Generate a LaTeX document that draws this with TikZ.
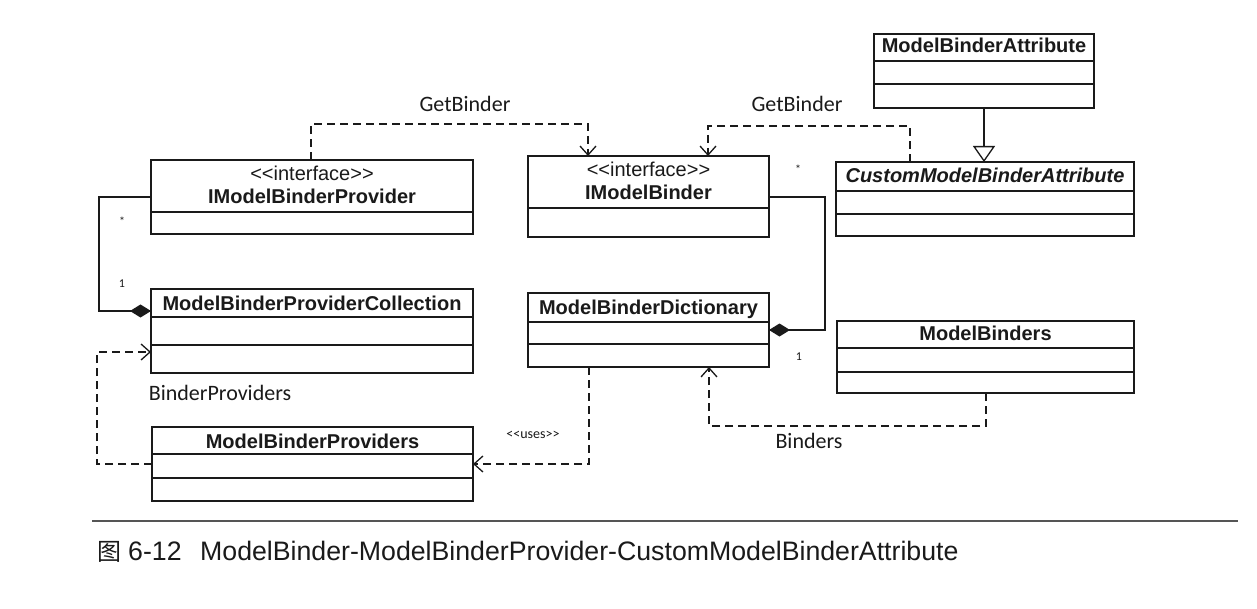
\documentclass[tikz,border=0pt]{standalone}
\usepackage{fontspec}
\setmainfont{Liberation Sans}
\newfontfamily\calfont{Carlito}
\newfontfamily\cjkfont{Noto Sans CJK SC}
\usetikzlibrary{arrows.meta,calc}
\definecolor{ink}{HTML}{1A1A1A}
\definecolor{rulegray}{HTML}{555555}
\tikzset{
  cls/.style={draw=ink, line width=1.3pt, inner sep=0pt, outer sep=0pt, anchor=north west, fill=white},
  divider/.style={draw=ink, line width=1.3pt},
  title/.style={font=\fontsize{20}{24}\selectfont\bfseries, text=ink, inner sep=0pt, anchor=base},
  ititle/.style={font=\fontsize{20}{24}\selectfont\bfseries\itshape, text=ink, inner sep=0pt, anchor=base},
  stereo/.style={font=\fontsize{20}{24}\selectfont, text=ink, inner sep=0pt, anchor=base},
  lbl/.style={font=\calfont\fontsize{22}{26}\selectfont, text=ink, inner sep=0pt, anchor=base},
  smalllbl/.style={font=\calfont\fontsize{14}{16}\selectfont, text=ink, inner sep=0pt, anchor=base},
  mult/.style={font=\calfont\fontsize{12}{14}\selectfont, text=ink, inner sep=0pt, anchor=base},
  dep/.style={draw=ink, line width=1.3pt, dash pattern=on 8pt off 5pt,
              -{Straight Barb[length=9pt,width=16pt,line width=1.3pt]}},
  comp/.style={draw=ink, line width=1.3pt, -{Diamond[length=21pt,width=13pt,fill=ink]}},
  gen/.style={draw=ink, line width=1.3pt, -{Triangle[open,length=16pt,width=22pt,fill=white]}},
  caption/.style={font=\fontsize{26.7}{30}\selectfont, text=ink, inner sep=0pt, anchor=base west},
}
\newcommand\umlbox[6]{%
  \node[cls, minimum width={#4-#2}, minimum height={#5-#3}] (#1) at (#2,#3) {};
  \foreach \d in {#6} {\draw[divider] (#2,\d) -- (#4,\d);}
}
\newcommand\stereotxt[1]{{<}{<}#1{>}{>}}
\begin{document}
\begin{tikzpicture}[x=1pt,y=-1pt]
\fill[white] (0,0) rectangle (1257,609);
\useasboundingbox (0,0) rectangle (1257,609);

% classes
\umlbox{ibp}{151}{160}{473}{234}{212}
\umlbox{ib}{528}{156}{769}{237}{208}
\umlbox{mba}{874}{34}{1094}{108}{61,84}
\umlbox{cmba}{836}{162}{1134}{236}{191,214}
\umlbox{mbpc}{151}{289}{473}{373}{317,345}
\umlbox{mbd}{528}{293}{769}{367}{322,344}
\umlbox{mbs}{837}{321}{1134}{393}{348,372}
\umlbox{mbp}{152}{427}{473}{501}{454,478}

% titles
\node[stereo] (ibpS) at (312,181) {\stereotxt{interface}};
\node[title]  (ibpT) at (312,204) {IModelBinderProvider};
\node[stereo] (ibS)  at (648.5,177) {\stereotxt{interface}};
\node[title]  (ibT)  at (648.5,200) {IModelBinder};
\node[title]  (mbaT) at (984,53) {ModelBinderAttribute};
\node[ititle] (cmbaT) at (985,183) {CustomModelBinderAttribute};
\node[title]  (mbpcT) at (312,310) {ModelBinderProviderCollection};
\node[title]  (mbdT) at (648.5,314) {ModelBinderDictionary};
\node[title]  (mbsT) at (985.5,340) {ModelBinders};
\node[title]  (mbpT) at (312.5,448) {ModelBinderProviders};

% connectors
\draw[dep] ([xshift=160pt]ibp.north west) -- ++(0,-36) -| ([xshift=60pt]ib.north west);
\draw[dep] ([xshift=74pt]cmba.north west) -- ++(0,-36) -| ([xshift=180pt]ib.north west);
\draw[comp] ([yshift=-37pt]ibp.north west) -- ++(-52,0) |- ([yshift=-22pt]mbpc.north west);
\draw[comp] ([yshift=-41pt]ib.north east) -- ++(56,0) |- ([yshift=-37pt]mbd.north east);
\draw[gen] (mba.south) -- (mba.south |- cmba.north);
\draw[dep] ([yshift=-37pt]mbp.north west) -- ++(-55,0) |- ([yshift=-63pt]mbpc.north west);
\draw[dep] ([xshift=61pt]mbd.south west) |- ([yshift=-37pt]mbp.north east);
\draw[dep] ([xshift=149pt]mbs.south west) -- ++(0,33) -| ([xshift=181pt]mbd.south west);

% connector labels
\node[lbl] (gb1) at (465,112) {GetBinder};
\node[lbl] (gb2) at (797,112) {GetBinder};
\node[lbl] (bp)  at (220,400) {BinderProviders};
\node[lbl] (bd)  at (809,448) {Binders};
\node[smalllbl] (uses) at (533,438) {\stereotxt{uses}};
\node[mult] (m1) at (122,225.5) {*};
\node[mult] (m2) at (122,288) {1};
\node[mult] (m3) at (798,173.5) {*};
\node[mult] (m4) at (799,360) {1};

% caption
\draw[rulegray, line width=1.3pt] (92,521) -- (1238,521);
\node[caption, font=\cjkfont\fontsize{24}{28}\selectfont] (capA) at (97,560) {图};
\node[caption] (capB) at (128,560) {6-12};
\node[caption] (capC) at (200,560) {ModelBinder-ModelBinderProvider-CustomModelBinderAttribute};
\end{tikzpicture}
\end{document}
